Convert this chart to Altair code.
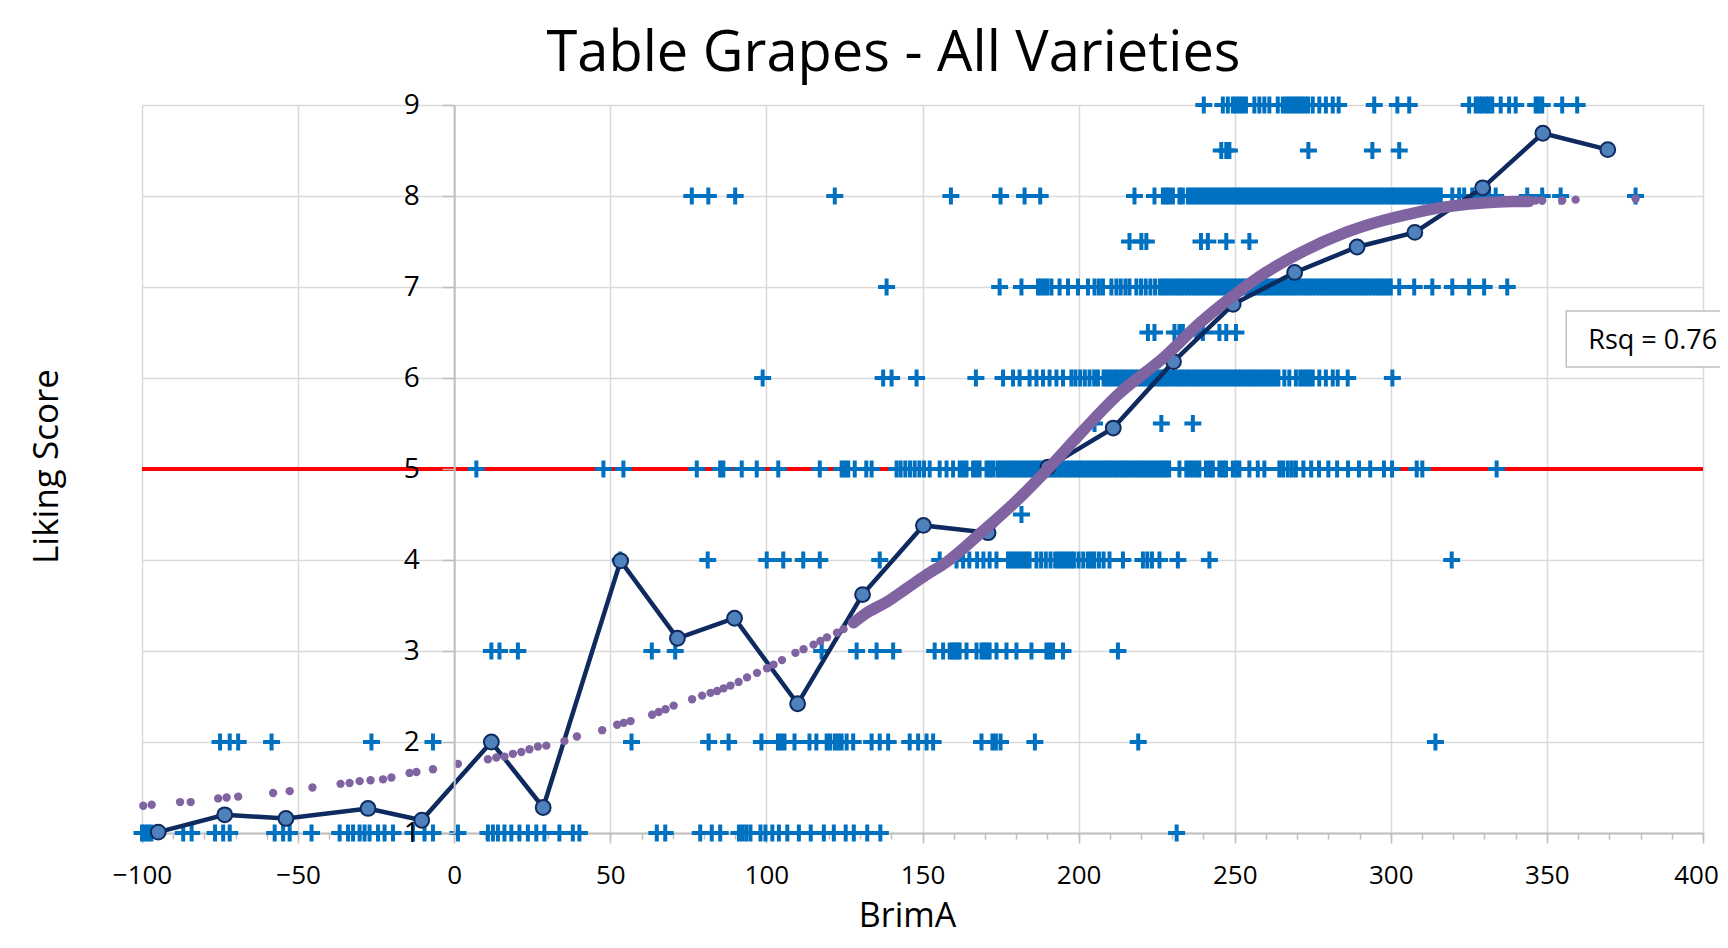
import altair as alt
import pandas as pd

# ---------------- data ----------------
# Individual responses: BrimA values at each Liking Score level ("+" markers)
L9 = [240.1, 246.2, 247.8, 249.4, 250.4, 251.4, 252.5, 253.6, 256.3, 257.9, 259.5, 261.1, 263.8,
      265.4, 266.5, 267.5, 268.5, 269.5, 270.5, 271.5, 272.5, 273.5, 275.0, 277.1, 279.2, 281.4,
      283.3, 294.7, 302.1, 305.9, 325.1, 327.2, 328.3, 329.3, 330.4, 331.4, 332.5, 335.2, 337.9,
      340.0, 346.4, 347.4, 348.5, 354.9, 359.7]
L8_5 = [245.7, 247.3, 248.3, 273.6, 294.1, 302.7]
L8 = [76.1, 81.4, 90.0, 121.9, 159.1, 175.0, 182.7, 187.7, 217.9, 224.3, 227.0, 228.0, 229.0,
      230.2, 232.3, 233.4,
      235, 236, 237, 238, 239, 240, 241, 242, 243, 244, 245, 246, 247, 248, 249, 250, 251, 252,
      253, 254, 255, 256, 257, 258, 259, 260, 261, 262, 263, 264, 265, 266, 267, 268, 269, 270,
      271, 272, 273, 274, 275, 276, 277, 278, 279, 280, 281, 282, 283, 284, 285, 286, 287, 288,
      289, 290, 291, 292, 293, 294, 295, 296, 297, 298, 299, 300, 301, 302, 303, 304, 305, 306,
      307, 308, 309, 310, 311, 312, 313, 314, 315, 316,
      319.7, 321.9, 323.5, 326.1, 329.3, 331.5, 333.6, 343.7, 348.5, 354.4, 378.4]
L7_5 = [216.3, 220.1, 221.7, 239.2, 241.4, 247.3, 254.7]
L7 = [138.5, 174.7, 181.7, 187.0, 188.0, 189.0, 190.0, 191.3, 193.9, 196.6, 199.8, 203.0, 205.1,
      206.5, 207.8, 210.5, 212.1, 213.5, 215.0, 216.3, 218.5, 220.0, 221.5, 223.0, 224.5, 226.0,
      227.0,
      228, 229, 230, 231, 232, 233, 234, 235, 236, 237, 238, 239, 240, 241, 242, 243, 244, 245,
      246, 247, 248, 249, 250, 251, 252, 253, 254, 255, 256, 257, 258, 259, 260, 261, 262, 263,
      264, 265, 266, 267, 268, 269, 270, 271, 272, 273, 274, 275, 276, 277, 278, 279, 280, 281,
      282, 283, 284, 285, 286, 287, 288, 289, 290, 291, 292, 293, 294, 295, 296, 297, 298, 299,
      300,
      302.7, 307.5, 313.3, 319.7, 325.1, 329.9, 337.3]
L6_5 = [222.2, 224.3, 230.7, 232.3, 233.4, 237.7, 239.8, 245.1, 247.3, 250.4]
L6 = [98.8, 137.4, 140.1, 148.1, 167.1, 175.8, 179.0, 181.1, 184.3, 186.5, 188.6, 190.7, 192.9,
      195.0, 197.7, 199.0, 200.5, 202.0, 203.5, 205.0, 206.2,
      208, 209, 210, 211, 212, 213, 214, 215, 216, 217, 218, 219, 220, 221, 222, 223, 224, 225,
      226, 227, 228, 229, 230, 231, 232, 233, 234, 235, 236, 237, 238, 239, 240, 241, 242, 243,
      244, 245, 246, 247, 248, 249, 250, 251, 252, 253, 254, 255, 256, 257, 258, 259, 260, 261,
      262, 263, 264,
      265.9, 267.5, 269.6, 271.0, 272.0, 273.0, 274.0, 275.0, 277.1, 279.2, 281.4, 283.0, 286.2,
      300.5]
L5_5 = [205.1, 226.5, 236.6]
L5 = [7.1, 47.8, 54.2, 77.7, 85.2, 86.2, 92.1, 96.9, 103.8, 117.1, 124.1, 125.2, 126.2, 128.3,
      132.0, 133.7, 141.7, 143.0, 144.5, 146.0, 147.5, 149.0, 150.5, 152.3, 155.5, 157.7, 159.8,
      161.9, 163.0, 164.1, 166.2, 167.3, 168.3, 170.5, 171.5, 172.6,
      174, 175, 176, 177, 178, 179, 180, 181, 182, 183, 184, 185, 186, 187, 188, 189, 190, 191,
      192, 193, 194, 195, 196, 197, 198, 199, 200, 201, 202, 203, 204, 205, 206, 207, 208, 209,
      210, 211, 212, 213, 214, 215, 216, 217, 218, 219, 220, 221, 222, 223, 224, 225, 226, 227,
      228, 229,
      232.3, 234.5, 235.5, 236.6, 237.7, 238.7, 240.8, 242.0, 243.0, 245.1, 246.2, 247.2, 249.4,
      250.5, 251.5, 254.7, 257.4, 259.5, 264.3, 265.5, 267.0, 268.3, 269.6, 272.0, 274.5, 277.0,
      280.0, 282.8, 286.3, 289.8, 293.4, 297.8, 300.4, 308.3, 310.1, 333.9]
L4_5 = [181.7]
L4 = [53.2, 81.2, 100.1, 105.4, 111.8, 117.1, 136.3, 155.5, 160.9, 163.0, 165.0, 167.5, 169.5,
      171.5, 173.7, 177.4, 178.4, 179.4, 180.4, 181.4, 182.4, 183.4, 184.3, 186.5, 188.0, 189.5,
      191.0, 192.5, 193.5, 194.5, 195.5, 196.5, 197.5, 198.5, 200.0, 201.5, 203.0, 204.0, 205.0,
      206.5, 208.0, 209.9, 214.2, 220.6, 222.0, 223.5, 225.9, 231.8, 241.9, 319.5]
L3 = [11.9, 14.5, 20.4, 63.3, 70.8, 117.7, 128.9, 135.3, 140.6, 153.9, 156.6, 158.7, 159.6,
      160.3, 161.1, 161.9, 164.1, 167.3, 168.9, 169.8, 170.6, 171.5, 173.7, 176.9, 180.1, 184.9,
      189.7, 190.7, 191.8, 195.0, 212.6]
L2 = [-75.0, -71.9, -69.2, -58.5, -26.5, -6.8, 56.8, 81.5, 87.9, 98.4, 103.7, 104.7, 105.8,
      109.0, 113.8, 116.0, 119.3, 120.4, 121.9, 123.0, 124.1, 125.7, 127.8, 133.7, 136.3, 139.0,
      145.9, 148.6, 151.3, 153.4, 168.9, 172.4, 173.5, 175.0, 186.0, 219.1, 314.3]
L1 = [-100, -99, -98, -97, -86.8, -84.1, -76.6, -74.0, -71.9, -57.5, -54.8, -52.7, -45.7, -36.7,
      -34.0, -32.4, -30.3, -28.7, -27.1, -24.4, -22.3, -19.6, -13.2, -9.5, -6.8, 1.2, 10.8, 12.4,
      14.0, 16.1, 18.3, 20.9, 23.6, 26.3, 28.9, 33.7, 38.0, 40.1, 64.9, 67.6, 78.8, 82.5, 85.2,
      91.2, 92.4, 93.6, 94.9, 98.1, 99.7, 101.9, 104.0, 106.7, 110.4, 114.2, 118.4, 121.6, 125.4,
      128.0, 132.3, 136.5, 231.4]

LEVELS = [9, 8.5, 8, 7.5, 7, 6.5, 6, 5.5, 5, 4.5, 4, 3, 2, 1]
LEVEL_LISTS = [L9, L8_5, L8, L7_5, L7, L6_5, L6, L5_5, L5, L4_5, L4, L3, L2, L1]

# Binned mean liking score (navy line with circles)
MEAN_X = [-94.8, -73.5, -53.9, -27.6, -10.4, 11.9, 28.5, 53.3, 71.5, 89.8, 110.0, 130.8, 150.3,
          171.0, 190.2, 211.1, 230.4, 249.5, 269.2, 289.2, 307.7, 329.4, 348.7, 369.5]
MEAN_Y = [1.01, 1.20, 1.16, 1.27, 1.14, 2.00, 1.28, 3.99, 3.14, 3.36, 2.42, 3.62, 4.38, 4.30,
          5.02, 5.45, 6.18, 6.81, 7.16, 7.44, 7.60, 8.09, 8.69, 8.51]

# Logistic fit values (purple dots, sparse part)
FIT_X = [-99.6, -96.9, -87.8, -84.4, -75.6, -72.9, -69.2, -58.0, -52.7, -45.4, -36.4, -33.5,
         -30.3, -26.8, -22.8, -20.1, -14.3, -12.1, -6.8, 1.2, 10.8, 13.5, 16.1, 18.8, 21.5, 24.1,
         26.8, 29.5, 35.3, 39.3, 47.4, 52.2, 54.3, 56.5, 63.4, 65.5, 67.7, 70.3, 76.2, 79.4, 82.1,
         84.2, 86.3, 88.5, 91.1, 93.8, 97.0, 100.2, 102.3, 105.0, 109.3, 111.9, 115.1, 117.3,
         119.4, 122.6, 124.7, 344.3, 346.4, 348.5, 354.9, 359.2, 378.4]
FIT_Y = [1.30, 1.31, 1.34, 1.34, 1.38, 1.39, 1.40, 1.44, 1.46, 1.50, 1.54, 1.55, 1.57, 1.58,
         1.59, 1.61, 1.66, 1.67, 1.70, 1.76, 1.81, 1.83, 1.84, 1.87, 1.89, 1.92, 1.95, 1.96, 2.01,
         2.06, 2.13, 2.19, 2.21, 2.23, 2.30, 2.33, 2.36, 2.40, 2.47, 2.51, 2.54, 2.56, 2.59, 2.62,
         2.66, 2.71, 2.76, 2.81, 2.85, 2.90, 2.98, 3.02, 3.07, 3.11, 3.15, 3.20, 3.24, 7.94, 7.95,
         7.95, 7.95, 7.96, 7.97]
# Logistic fit values where points are so dense that they merge into a band
BAND_X = [127.9, 132.2, 138.6, 145.0, 151.4, 157.8, 169.4, 180.1, 190.7, 201.4, 212.1, 228.1,
          238.7, 249.4, 260.0, 270.7, 285.6, 296.3, 307.0, 317.6, 328.3, 339.0, 344.3]
BAND_Y = [3.31, 3.42, 3.54, 3.69, 3.84, 3.98, 4.32, 4.65, 5.02, 5.42, 5.80, 6.25, 6.60, 6.90,
          7.16, 7.37, 7.60, 7.72, 7.81, 7.88, 7.92, 7.94, 7.94]

THRESHOLD = 5
X_TICKS = [-100, -50, 0, 50, 100, 150, 200, 250, 300, 350, 400]
X_MINOR = [-100, -90, -80, -70, -60, -50, -40, -30, -20, -10, 0, 10, 20, 30, 40, 50, 60, 70, 80,
           90, 100, 110, 120, 130, 140, 150, 160, 170, 180, 190, 200, 210, 220, 230, 240, 250,
           260, 270, 280, 290, 300, 310, 320, 330, 340, 350, 360, 370, 380, 390, 400]
Y_TICKS = [1, 2, 3, 4, 5, 6, 7, 8, 9]

RSQ_TEXT = "Rsq = 0.76"
# annotation box placement (data units)
RSQ_BOX = {"x": 356.2, "x2": 412.0, "y": 6.12, "y2": 6.735}
RSQ_POS = {"x": 383.9, "y": 6.41}

# ---------------- build tables ----------------
resp = pd.DataFrame([{"x": v, "y": lv} for lv, arr in zip(LEVELS, LEVEL_LISTS) for v in arr])
means = pd.DataFrame({"x": MEAN_X, "y": MEAN_Y})
fit = pd.DataFrame({"x": FIT_X, "y": FIT_Y})
band = pd.DataFrame({"x": BAND_X, "y": BAND_Y})
thr = pd.DataFrame({"x": [X_TICKS[0]], "x2": [X_TICKS[-1]], "y": [THRESHOLD]})
box = pd.DataFrame([RSQ_BOX])
lab = pd.DataFrame([{**RSQ_POS, "t": RSQ_TEXT}])

FONT = "Open Sans"
GRID = "#D9D9D9"
AXIS = "#BFBFBF"
W, H = 1561, 728

xs = alt.Scale(domain=[-100, 400], nice=False, zero=False)
ys = alt.Scale(domain=[1, 9], nice=False, zero=False)

x_main = alt.Axis(values=X_TICKS, orient="bottom", title="BrimA", grid=True, gridColor=GRID,
                  gridWidth=1.5, domainColor=AXIS, domainWidth=2, tickColor=AXIS, tickWidth=1.5,
                  tickSize=10, labelFont=FONT, labelFontSize=26, labelColor="#000000",
                  labelPadding=32, labelBaseline="middle", labelFlush=False, labelOverlap=False,
                  labelOffset={"condition": {"test": "datum.value === 400", "value": -7},
                               "value": 0},
                  titleFont=FONT, titleFontSize=34, titleFontWeight="normal", titleColor="#000000",
                  titleX=765, titleY=83, titleBaseline="middle", titleAlign="center", zindex=0)
x_minor = alt.Axis(values=X_MINOR, orient="bottom", title=None, labels=False, grid=False,
                   domain=False, tickColor=AXIS, tickWidth=1.5, tickSize=6, zindex=0)
# horizontal gridlines only (kept behind the marks)
y_grid = alt.Axis(values=Y_TICKS, orient="left", title=None, labels=False, ticks=False,
                  domain=False, grid=True, gridColor=GRID, gridWidth=1.5, zindex=0)
# vertical axis crossing at BrimA = 0, drawn above the marks
y_main = alt.Axis(values=Y_TICKS, orient="left", offset=-W * 100 / 500, title="Liking Score",
                  grid=False, domainColor=AXIS, domainWidth=2, tickColor=AXIS,
                  tickWidth=1.5, tickSize=12, labelFont=FONT, labelFontSize=28,
                  labelColor="#000000", labelPadding=23, titleFont=FONT, titleFontSize=35,
                  titleFontWeight="normal", titleColor="#000000", titleAngle=270,
                  titleX=-397, titleY=361, titleAlign="center", titleBaseline="alphabetic",
                  zindex=1)

def X(axis=None):
    return alt.X("x:Q", scale=xs, axis=axis)

def Yc(axis=None):
    return alt.Y("y:Q", scale=ys, axis=axis)

red = alt.Chart(thr).mark_rule(color="#FF0000", strokeWidth=4).encode(
    x=X(x_minor), x2="x2:Q", y=Yc(y_grid))

PLUS = "M-1,0L1,0M0,-1L0,1"
pts = alt.Chart(resp).mark_point(shape=PLUS, filled=False, stroke="#0070C0", strokeWidth=4,
                                 size=289, opacity=1).encode(x=X(x_main), y=Yc(y_main))

mline = alt.Chart(means).mark_line(color="#0E2A5E", strokeWidth=4.5).encode(x=X(), y=Yc())
mdots = alt.Chart(means).mark_circle(size=220, fill="#4F81BD", stroke="#0E2A5E", strokeWidth=2,
                                     opacity=1).encode(x=X(), y=Yc())

fdots = alt.Chart(fit).mark_circle(size=70, color="#8064A2", opacity=1).encode(x=X(), y=Yc())
fband = alt.Chart(band).mark_line(color="#8064A2", strokeWidth=11.5, strokeCap="round",
                                  interpolate="monotone").encode(x=X(), y=Yc())

rbox = alt.Chart(box).mark_rect(fill="#FFFFFF", stroke="#BFBFBF", strokeWidth=1.5).encode(
    x=X(), x2="x2:Q", y=Yc(), y2="y2:Q")
rtxt = alt.Chart(lab).mark_text(font=FONT, fontSize=27, color="#000000", align="center",
                                baseline="middle").encode(x=X(), y=Yc(), text="t:N")

chart = alt.layer(red, pts, mline, mdots, fdots, fband, rbox, rtxt).resolve_axis(
    x="independent", y="independent"
).properties(
    width=W, height=H,
    title=alt.TitleParams(text="Table Grapes - All Varieties", font=FONT, fontSize=56,
                          fontWeight="normal", color="#000000", anchor="middle", frame="group",
                          baseline="alphabetic", offset=20, dx=-29, dy=58),
    autosize=alt.AutoSizeParams(type="none"),
    padding={"left": 134, "top": 97, "right": 17, "bottom": 106},
    background="#FFFFFF",
).configure_view(stroke=None)

chart.save("out.html", embed_options={"renderer": "svg", "actions": False})
